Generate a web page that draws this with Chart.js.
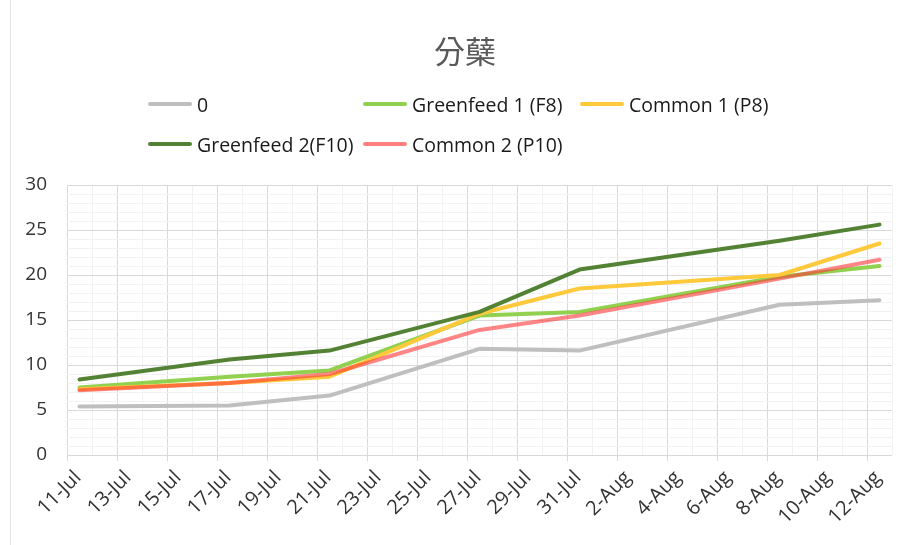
<!DOCTYPE html>
<html>
<head>
<meta charset="utf-8">
<title>分蘖</title>
<script src="https://cdn.jsdelivr.net/npm/chart.js@4.4.1/dist/chart.umd.min.js"></script>
<style>
  body { margin: 0; background: #fff; }
  #marco { position: relative; width: 905px; height: 545px; overflow: hidden; }
  #grafica { position: absolute; left: 0; top: 0; }
  #borde { position: absolute; left: 10px; top: 0; width: 1px; height: 545px; background: #e3e3e3; }
  #titulo { position: absolute; left: 365px; width: 200px; top: 30px; text-align: center;
            font-family: "Noto Sans CJK TC", "Noto Sans CJK SC", sans-serif; font-size: 31px;
            line-height: 40px; color: #595959; }
  #leyenda { position: absolute; left: 148px; top: 84px; display: grid;
             grid-template-columns: 215px 217px auto; grid-auto-rows: 40px;
             font-family: "Open Sans", "Noto Sans", sans-serif; font-size: 19.5px; color: #1a1a1a; }
  .item { display: flex; align-items: center; white-space: nowrap; }
  .linea { display: inline-block; width: 44px; height: 4px; border-radius: 2px; margin-right: 5px; }
</style>
</head>
<body>
<div id="marco">
  <div id="borde"></div>
  <canvas id="grafica" width="905" height="545"></canvas>
  <div id="titulo">分蘖</div>
  <div id="leyenda"></div>
</div>
<script>
// fechas de muestreo y valores de cada tratamiento
var fechas = ['11-Jul', '17-Jul', '21-Jul', '27-Jul', '31-Jul', '8-Aug', '12-Aug'];
var nombres = ['0', 'Greenfeed 1 (F8)', 'Common 1 (P8)', 'Greenfeed 2(F10)', 'Common 2 (P10)'];
var serie0 = [5.4, 5.5, 6.6, 11.8, 11.6, 16.7, 17.2];
var greenfeed1 = [7.5, 8.7, 9.4, 15.5, 15.9, 19.8, 21.0];
var common1 = [7.3, 8.0, 8.7, 15.7, 18.5, 20.0, 23.5];
var greenfeed2 = [8.4, 10.6, 11.6, 15.9, 20.6, 23.8, 25.6];
var common2 = [7.2, 8.0, 9.0, 13.9, 15.5, 19.6, 21.7];
var colores = ['#bfbfbf', '#92d050', '#ffc93c', '#548235', 'rgba(255,60,60,0.62)'];
var coloresLeyenda = ['#bfbfbf', '#92d050', '#ffc93c', '#548235', '#ff8080'];

var diaInicio = 11; // 11-Jul = dia 0 del eje
var diasEje = 33;   // hasta 13-Aug

function diaDesdeInicio(f) {
  var p = f.split('-');
  var d = parseInt(p[0]);
  return p[1] == 'Jul' ? d - diaInicio : d + 31 - diaInicio;
}
function etiquetaDia(v) {
  var d = diaInicio + v;
  return d <= 31 ? d + '-Jul' : (d - 31) + '-Aug';
}
function puntos(valores) {
  // fechas al centro del dia (eje de fechas tipo Excel)
  return valores.map(function (y, i) { return { x: diaDesdeInicio(fechas[i]) + 0.5, y: y }; });
}

var series = [serie0, greenfeed1, common1, greenfeed2, common2];
var datasets = series.map(function (s, i) {
  return {
    label: nombres[i],
    data: puntos(s),
    borderColor: colores[i],
    backgroundColor: colores[i],
    borderWidth: 4,
    borderCapStyle: 'round',
    borderJoinStyle: 'round',
    pointRadius: 0,
    tension: 0,
    fill: false,
    order: series.length - i
  };
});

// leyenda en columnas como Excel
var leyenda = document.getElementById('leyenda');
nombres.forEach(function (n, i) {
  var item = document.createElement('div');
  item.className = 'item';
  item.innerHTML = '<span class="linea" style="background:' + coloresLeyenda[i] + '"></span>';
  item.appendChild(document.createTextNode(n));
  leyenda.appendChild(item);
});

var fuente = '"Open Sans", "Noto Sans", sans-serif';

new Chart(document.getElementById('grafica'), {
  type: 'line',
  data: { datasets: datasets },
  options: {
    responsive: false,
    animation: false,
    devicePixelRatio: 1,
    layout: { padding: { left: 0, right: 13, top: 185, bottom: 0 } },
    plugins: {
      legend: { display: false },
      tooltip: { enabled: false },
      title: { display: false }
    },
    scales: {
      x: {
        type: 'linear',
        min: 0,
        max: diasEje,
        afterFit: function (scale) {
          scale.height = 90;
          scale.paddingLeft = 0;
          scale.paddingRight = 0;
        },
        border: { display: false },
        grid: {
          color: function (c) { return c.tick && c.tick.value % 2 == 0 ? '#d9d9d9' : '#f2f2f2'; },
          tickColor: function (c) { return c.tick && c.tick.value % 2 == 0 ? '#d9d9d9' : 'rgba(0,0,0,0)'; },
          tickLength: 6,
          lineWidth: 1
        },
        ticks: {
          stepSize: 1,
          autoSkip: false,
          maxRotation: 45,
          minRotation: 45,
          labelOffset: 11,
          padding: 5,
          color: '#333333',
          font: { size: 20, family: fuente },
          callback: function (v) { return v % 2 == 0 ? etiquetaDia(v) : ''; }
        }
      },
      y: {
        min: 0,
        max: 30,
        afterFit: function (scale) { scale.width = 67; },
        border: { display: false },
        grid: {
          color: function (c) { return c.tick && c.tick.value % 5 == 0 ? '#d9d9d9' : '#f2f2f2'; },
          drawTicks: false,
          lineWidth: 1
        },
        ticks: {
          stepSize: 1,
          autoSkip: false,
          padding: 20,
          color: '#333333',
          font: { size: 19, family: fuente },
          callback: function (v) { return v % 5 == 0 ? v : ''; }
        }
      }
    }
  }
});
</script>
</body>
</html>
